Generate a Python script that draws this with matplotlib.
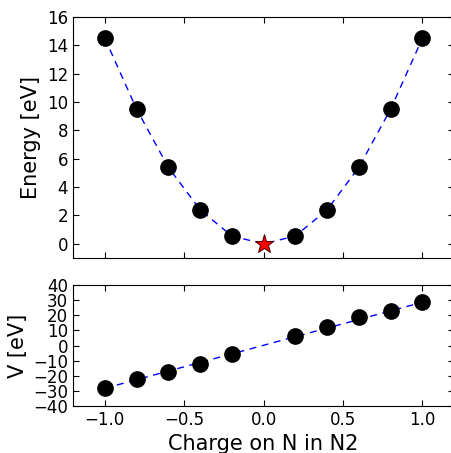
import matplotlib
matplotlib.use("Agg")
import matplotlib.pyplot as plt

# charge on N (e) and results
charges = [-1.0, -0.8, -0.6, -0.4, -0.2, 0.2, 0.4, 0.6, 0.8, 1.0]
energy = [14.5, 9.5, 5.4, 2.4, 0.55, 0.55, 2.4, 5.4, 9.5, 14.5]
potential = [-28.3, -22.1, -17.7, -12.4, -5.8, 6.5, 12.0, 18.6, 23.0, 28.6]

# neutral reference point
q0 = [0.0]
e0 = [0.0]

# dashed guides
curve_q = [-1.0, -0.8, -0.6, -0.4, -0.2, 0.0, 0.2, 0.4, 0.6, 0.8, 1.0]
curve_e = [14.5, 9.5, 5.4, 2.4, 0.55, 0.0, 0.55, 2.4, 5.4, 9.5, 14.5]
fit_q = [-1.0, 1.0]
fit_v = [-28.3, 28.6]

plt.rcParams["font.family"] = "DejaVu Sans"
plt.rcParams["xtick.direction"] = "in"
plt.rcParams["ytick.direction"] = "in"
plt.rcParams["xtick.top"] = True
plt.rcParams["ytick.right"] = True
plt.rcParams["xtick.major.size"] = 4
plt.rcParams["ytick.major.size"] = 4

fig = plt.figure(figsize=(4.51, 4.53), dpi=100)
ax1 = fig.add_axes([0.162, 0.4305, 0.845, 0.532])
ax2 = fig.add_axes([0.162, 0.1038, 0.845, 0.267])

ax1.plot(curve_q, curve_e, "b--", lw=1, dashes=(5, 4))
ax1.plot(charges, energy, "o", color="black", ms=11)
ax1.plot(q0, e0, "*", color="red", mec="#440000", mew=0.7, ms=14)
ax1.set_xlim(-1.2, 1.2)
ax1.set_ylim(-1, 16)
ax1.set_yticks(range(0, 17, 2))
ax1.set_xticks([-1.0, -0.5, 0.0, 0.5, 1.0])
ax1.set_xticklabels([])
ax1.set_ylabel("Energy [eV]", fontsize=15)
ax1.tick_params(labelsize=12)

ax2.plot(fit_q, fit_v, "b--", lw=1, dashes=(5, 4))
ax2.plot(charges, potential, "o", color="black", ms=11)
ax2.set_xlim(-1.2, 1.2)
ax2.set_ylim(-40, 40)
ax2.set_yticks(range(-40, 41, 10))
ax2.set_xticks([-1.0, -0.5, 0.0, 0.5, 1.0])
ax2.set_ylabel("V [eV]", fontsize=15)
ax2.set_xlabel("Charge on N in N2", fontsize=15)
ax2.tick_params(labelsize=12)

fig.savefig("out.png", dpi=100)
